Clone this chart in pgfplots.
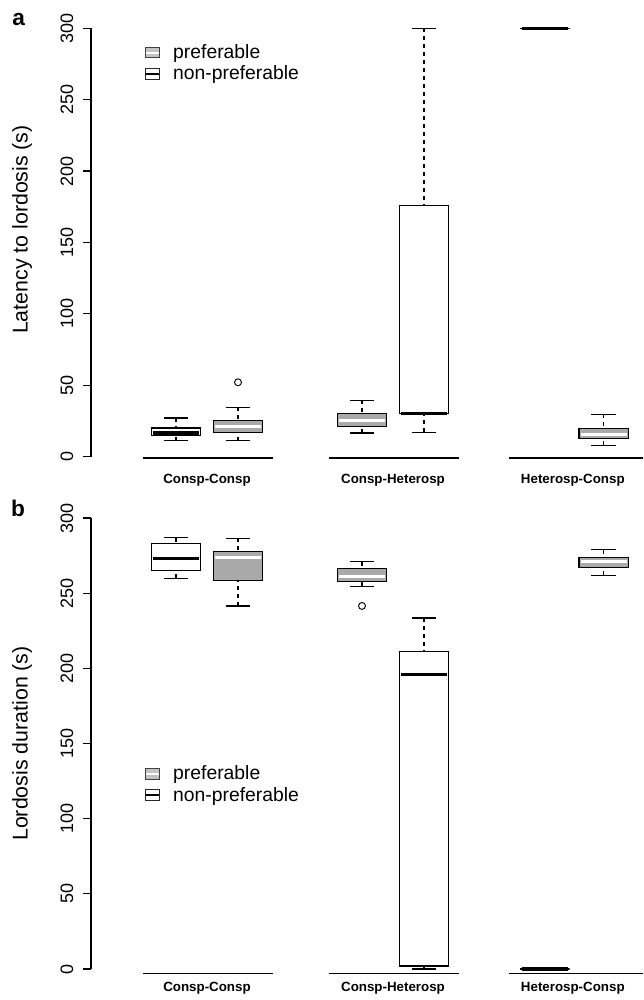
\documentclass[border=0pt]{standalone}
\usepackage{pgfplots}
\pgfplotsset{compat=1.18}
\usepgfplotslibrary{statistics}
\usepackage{fontspec}
\setmainfont{Liberation Sans}
\definecolor{boxgray}{HTML}{A9A9A9}
\pgfplotsset{
  panel/.style={
    scale only axis, width=414pt,
    xmin=-0.371, xmax=8.532, ymin=0, ymax=300,
    clip=false,
    axis lines*=left,
    x axis line style={draw=none},
    y axis line style={black, line width=0.9pt},
    xtick={1.5,4.5,7.4},
    xticklabels={Consp-Consp,Consp-Heterosp,Heterosp-Consp},
    xtick style={draw=none},
    xticklabel style={font=\bfseries\fontsize{10}{12}\selectfont},
    ytick={0,50,100,150,200,250,300},
    tick align=outside,
    major tick length=6pt,
    ytick style={black, line width=0.9pt},
    yticklabel shift=3.75pt,
    yticklabel style={rotate=90, anchor=south, font=\fontsize{13.5}{15}\selectfont},
    /pgf/number format/assume math mode=true,
    boxplot/draw direction=y,
    boxplot/box extend=0.8,
    boxplot/whisker extend=0.4,
    boxplot/draw/lower whisker/.code={%
      \draw[solid, line width=0.9pt] (boxplot whisker cs:\pgfplotsboxplotvalue{lower whisker},0) -- (boxplot whisker cs:\pgfplotsboxplotvalue{lower whisker},1);
      \draw[line width=0.9pt, dash pattern=on 3pt off 3pt] (boxplot cs:\pgfplotsboxplotvalue{lower whisker}) -- (boxplot cs:\pgfplotsboxplotvalue{lower quartile});
    },
    boxplot/draw/upper whisker/.code={%
      \draw[solid, line width=0.9pt] (boxplot whisker cs:\pgfplotsboxplotvalue{upper whisker},0) -- (boxplot whisker cs:\pgfplotsboxplotvalue{upper whisker},1);
      \draw[line width=0.9pt, dash pattern=on 3pt off 3pt] (boxplot cs:\pgfplotsboxplotvalue{upper whisker}) -- (boxplot cs:\pgfplotsboxplotvalue{upper quartile});
    },
    boxplot/draw/median/.code={%
      \draw[/pgfplots/boxplot/every median/.try] (boxplot box cs:\pgfplotsboxplotvalue{median},0.03) -- (boxplot box cs:\pgfplotsboxplotvalue{median},0.97);
    },
    legend style={draw=none, fill=none, anchor=north west, font=\fontsize{14.5}{16}\selectfont, row sep=0pt, column sep=8pt, cells={anchor=west}},
  },
  pref/.style={black, mark=o, mark size=2.6pt, mark options={solid, black, line width=0.7pt},
    boxplot/every box/.style={fill=boxgray, draw=black, line width=0.9pt},
    boxplot/every median/.style={white, line width=2.2pt}, forget plot},
  npref/.style={black, mark=o, mark size=2.6pt, mark options={solid, black, line width=0.7pt},
    boxplot/every box/.style={fill=white, draw=black, line width=0.9pt},
    boxplot/every median/.style={black, line width=2.6pt}, forget plot},
  grp/.style={black, line width=1.1pt, forget plot},
  prefleg/.style={legend image code/.code={%
    \draw[fill=boxgray!70, draw=black!75, line width=0.7pt] (0pt,-4pt) rectangle (10.5pt,4pt);
    \draw[white, line width=1.5pt] (0.6pt,0pt) -- (9.9pt,0pt);}},
  nprefleg/.style={legend image code/.code={%
    \draw[fill=white, draw=black!85, line width=0.7pt] (0pt,-4pt) rectangle (10.5pt,4pt);
    \draw[black, line width=1.8pt] (0.6pt,0pt) -- (9.9pt,0pt);}},
}
\begin{document}
\begin{tikzpicture}[x=1pt,y=1pt]
\useasboundingbox (0,0) rectangle (482.25,750);
\clip (0,0) rectangle (482.25,750);
% panel a
\begin{axis}[panel, at={(68.25pt,407.6pt)}, anchor=south west, height=321.2pt,
  ylabel={Latency to lordosis (s)},
  ylabel style={at={(axis description cs:-0.125,0.53)}, anchor=center, font=\fontsize{16}{18}\selectfont},
  xticklabel style={yshift=-3.75pt},
  legend style={at={(axis description cs:0.09,0.975)}}]
\addplot[grp] coordinates {(0.47,-1) (2.57,-1)};
\addplot[grp] coordinates {(3.47,-1) (5.57,-1)};
\addplot[grp] coordinates {(6.37,-1) (8.57,-1)};
\addplot[npref, boxplot prepared={draw position=1, lower whisker=11, lower quartile=15, median=16.5, upper quartile=20, upper whisker=27}] coordinates {};
\addplot[pref, boxplot prepared={draw position=2, lower whisker=11, lower quartile=17, median=21, upper quartile=25.5, upper whisker=34.5}] table[row sep=\\, y index=0] {y\\ 52\\};
\addplot[pref, boxplot prepared={draw position=4, lower whisker=16.5, lower quartile=21, median=25, upper quartile=30, upper whisker=39.5}] coordinates {};
\addplot[npref, boxplot prepared={draw position=5, lower whisker=17, lower quartile=30, median=30, upper quartile=176, upper whisker=300}] coordinates {};
\addplot[npref, boxplot prepared={draw position=6.95, lower whisker=300, lower quartile=300, median=300, upper quartile=300, upper whisker=300}] coordinates {};
\addplot[pref, boxplot prepared={draw position=7.9, lower whisker=8, lower quartile=12.5, median=15.5, upper quartile=19.5, upper whisker=29.5}] coordinates {};
\addlegendimage{prefleg}\addlegendentry{preferable}
\addlegendimage{nprefleg}\addlegendentry{non-preferable}
\end{axis}
% panel b
\begin{axis}[panel, at={(68.25pt,23.25pt)}, anchor=south west, height=338.25pt,
  ylabel={Lordosis duration (s)},
  ylabel style={at={(axis description cs:-0.125,0.5)}, anchor=center, font=\fontsize{16}{18}\selectfont},
  legend style={at={(axis description cs:0.09,0.463)}}]
\addplot[grp] coordinates {(0.47,-3) (2.57,-3)};
\addplot[grp] coordinates {(3.47,-3) (5.57,-3)};
\addplot[grp] coordinates {(6.37,-3) (8.57,-3)};
\addplot[npref, boxplot prepared={draw position=1, lower whisker=260, lower quartile=265, median=273, upper quartile=283, upper whisker=287}] coordinates {};
\addplot[pref, boxplot prepared={draw position=2, lower whisker=241.5, lower quartile=258.5, median=274, upper quartile=277.5, upper whisker=286.5}] coordinates {};
\addplot[pref, boxplot prepared={draw position=4, lower whisker=254.5, lower quartile=257.5, median=261, upper quartile=266.5, upper whisker=271}] table[row sep=\\, y index=0] {y\\ 241.5\\};
\addplot[npref, boxplot prepared={draw position=5, lower whisker=0, lower quartile=2, median=196, upper quartile=211, upper whisker=233.5}] coordinates {};
\addplot[npref, boxplot prepared={draw position=6.95, lower whisker=0, lower quartile=0, median=0, upper quartile=0, upper whisker=0}] coordinates {};
\addplot[pref, boxplot prepared={draw position=7.9, lower whisker=262, lower quartile=267, median=271, upper quartile=273.5, upper whisker=279}] coordinates {};
\addlegendimage{prefleg}\addlegendentry{preferable}
\addlegendimage{nprefleg}\addlegendentry{non-preferable}
\end{axis}
\node[font=\bfseries\fontsize{17}{17}\selectfont] at (14pt,735pt) {a};
\node[font=\bfseries\fontsize{17}{17}\selectfont] at (13.5pt,369pt) {b};
\end{tikzpicture}
\end{document}
